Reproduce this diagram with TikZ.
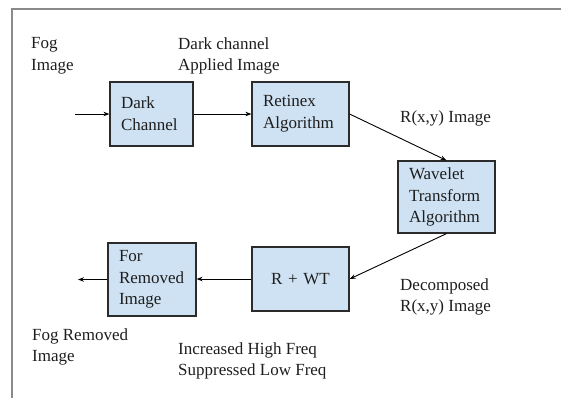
\documentclass[tikz,border=0pt]{standalone}
\usepackage{fontspec}
\setmainfont{Liberation Serif}
\usetikzlibrary{arrows.meta}
\definecolor{boxfill}{HTML}{CFE2F3}
\definecolor{boxdraw}{HTML}{2B2B2B}
\definecolor{framegray}{HTML}{8A8A8A}
\definecolor{inkcol}{HTML}{1E1E1E}
\begin{document}
\begin{tikzpicture}[x=1bp,y=-1bp,
  every node/.style={font=\fontsize{17bp}{21.7bp}\selectfont, text=inkcol},
  stagebox/.style={draw=boxdraw, fill=boxfill, line width=1.2bp,
    inner xsep=11bp, inner ysep=2bp, align=left},
  caption/.style={anchor=north west, inner sep=0pt, align=left},
  flow/.style={draw=black, line width=0.9bp, -{Stealth[length=6bp,width=4.5bp]}},
  frameline/.style={draw=framegray, line width=1.2bp}]
\useasboundingbox (0,0) rectangle (561,398);
% frame
\coordinate (ftl) at (12,9);
\coordinate (ftr) at (561,9);
\coordinate (fbl) at (12,398);
\draw[frameline] (ftr) -- (ftl) -- (fbl);
% boxes
\node[stagebox, text width=61bp, minimum height=64bp] (dc) at (151.5,114) {Dark\\Channel};
\node[stagebox, text width=75bp, minimum height=64bp] (ret) at (300.5,114) {Retinex\\Algorithm};
\node[stagebox, text width=75bp, minimum height=72bp] (wav) at (446.5,197) {Wavelet\\Transform\\Algorithm};
\node[stagebox, text width=75bp, minimum height=64bp, align=center] (rwt) at (300.5,279) {R + WT};
\node[stagebox, text width=66bp, minimum height=73bp] (fr) at (152,279.5) {For\\Removed\\Image};
% captions
\node[caption] (tfog) at (31,37) {Fog\\Image};
\node[caption] (tdc) at (178,37) {Dark channel\\Applied Image};
\node[caption] (trxy) at (400,110) {R(x,y) Image};
\node[caption] (tdec) at (400,278) {Decomposed\\R(x,y) Image};
\node[caption] (tfr) at (32,328) {Fog Removed\\Image};
\node[caption] (tinc) at (178,342) {Increased High Freq\\Suppressed Low Freq};
% connectors
\coordinate (inp) at (75,114);
\coordinate (outp) at (78,279.5);
\draw[flow] (inp) -- (dc.west);
\draw[flow] (dc.east) -- (ret.west);
\draw[flow] (ret.east) -- (wav.north);
\draw[flow] (wav.south) -- (rwt.east);
\draw[flow] (rwt.west) -- (fr.east |- rwt.west);
\draw[flow] (fr.west) -- (outp);
\end{tikzpicture}
\end{document}
